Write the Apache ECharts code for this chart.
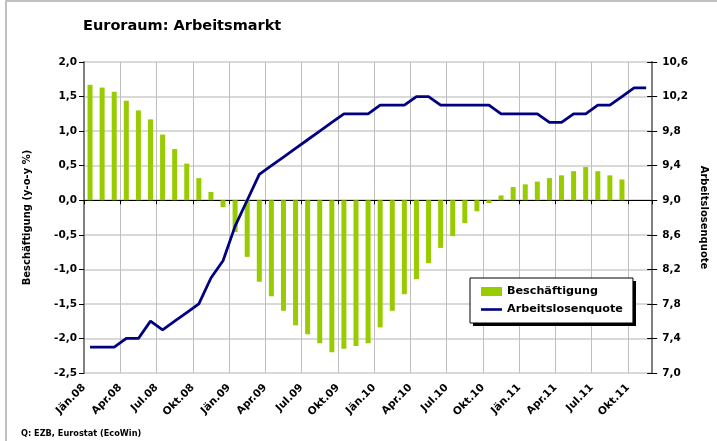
<!DOCTYPE html>
<html>
<head>
<meta charset="utf-8">
<script src="https://cdn.jsdelivr.net/npm/echarts@6/dist/echarts.min.js"></script>
<style>
    html, body { margin: 0; padding: 0; background: #fff; }
    #chart { width: 717px; height: 441px; }
</style>
</head>
<body>
<div id="chart"></div>
<script>
// months Jan 08 .. Nov 11
const monthNames = ['Jän', 'Feb', 'Mär', 'Apr', 'Mai', 'Jun', 'Jul', 'Aug', 'Sep', 'Okt', 'Nov', 'Dez'];
const years = ['08', '09', '10', '11'];
const monthCount = 47;
const months = [];
for (let i = 0; i < monthCount; i++) {
    months.push(monthNames[i % 12] + '.' + years[Math.floor(i / 12)]);
}

// Beschäftigung y-o-y %, Jan 08 .. Sep 11
const beschaeftigung = [
    1.67, 1.63, 1.57, 1.44, 1.30, 1.17, 0.95, 0.74, 0.53, 0.32, 0.12, -0.10,
    -0.46, -0.82, -1.18, -1.39, -1.60, -1.81, -1.94, -2.07, -2.20, -2.15, -2.11, -2.07,
    -1.84, -1.60, -1.36, -1.14, -0.91, -0.69, -0.52, -0.33, -0.16, -0.04, 0.07, 0.19,
    0.23, 0.27, 0.32, 0.36, 0.42, 0.48, 0.42, 0.36, 0.30
];

// Arbeitslosenquote %, Jan 08 .. Nov 11
const arbeitslosenquote = [
    7.3, 7.3, 7.3, 7.4, 7.4, 7.6, 7.5, 7.6, 7.7, 7.8, 8.1, 8.3,
    8.7, 9.0, 9.3, 9.4, 9.5, 9.6, 9.7, 9.8, 9.9, 10.0, 10.0, 10.0,
    10.1, 10.1, 10.1, 10.2, 10.2, 10.1, 10.1, 10.1, 10.1, 10.1, 10.0, 10.0,
    10.0, 10.0, 9.9, 9.9, 10.0, 10.0, 10.1, 10.1, 10.2, 10.3, 10.3
];

const FONT = 'DejaVu Sans';
const comma = v => v.toFixed(1).replace('.', ',');

const myChart = echarts.init(document.getElementById('chart'));

const option = {
    animation: false,
    backgroundColor: '#fff',
    title: {
        text: 'Euroraum: Arbeitsmarkt',
        left: 83,
        top: 19,
        padding: 0,
        textStyle: { fontFamily: FONT, fontSize: 14.5, fontWeight: 'bold', color: '#000' }
    },
    graphic: [
        { type: 'line', shape: { x1: 6, y1: 0, x2: 6, y2: 441 }, style: { stroke: '#c0c0c0', lineWidth: 2 } },
        { type: 'line', shape: { x1: 5, y1: 1, x2: 717, y2: 1 }, style: { stroke: '#c0c0c0', lineWidth: 2 } },
        // legend shadow
        { type: 'rect', z: 3, shape: { x: 473, y: 281, width: 163, height: 45 }, style: { fill: '#000' } },
        {
            type: 'text', x: 21, y: 430,
            style: {
                text: 'Q: EZB, Eurostat (EcoWin)',
                font: 'bold 8.2px "DejaVu Sans"',
                fill: '#000',
                verticalAlign: 'top'
            }
        }
    ],
    legend: {
        orient: 'vertical',
        left: 470,
        top: 278,
        z: 10,
        padding: [8, 10, 8, 11],
        itemWidth: 21,
        itemHeight: 9,
        itemGap: 7,
        symbolKeepAspect: true,
        backgroundColor: '#fff',
        borderColor: '#000',
        borderWidth: 1,
        borderRadius: 0,
        textStyle: { fontFamily: FONT, fontSize: 11.2, fontWeight: 'bold', color: '#000' },
        data: [
            { name: 'Beschäftigung', icon: 'rect' },
            { name: 'Arbeitslosenquote', icon: 'path://M0,0 H21 V2.6 H0 Z' }
        ]
    },
    grid: { left: 84, right: 61, top: 62, bottom: 68, containLabel: false },
    xAxis: [
        {
            type: 'category',
            data: months,
            boundaryGap: true,
            axisLine: { onZero: true, lineStyle: { color: '#000', width: 1 } },
            axisTick: { show: true, interval: 2, length: 4, lineStyle: { color: '#000' } },
            axisLabel: { show: false },
            splitLine: { show: false }
        },
        {
            type: 'value',
            position: 'bottom',
            min: 0,
            max: monthCount,
            interval: 3,
            axisLine: { show: false },
            axisTick: { show: false },
            splitLine: { show: true, lineStyle: { color: '#bfbfbf', width: 1 } },
            axisLabel: {
                rotate: 45,
                margin: 13,
                showMaxLabel: false,
                fontFamily: FONT,
                fontSize: 10.5,
                fontWeight: 'bold',
                color: '#000',
                formatter: v => (v % 3 === 0 && v < monthCount) ? months[v] : ''
            }
        }
    ],
    yAxis: [
        {
            type: 'value',
            position: 'left',
            min: -2.5,
            max: 2.0,
            interval: 0.5,
            name: 'Beschäftigung (y-o-y %)',
            nameLocation: 'middle',
            nameRotate: 90,
            nameGap: 52,
            nameTextStyle: { fontFamily: FONT, fontSize: 10, fontWeight: 'bold', color: '#000' },
            axisLine: { show: true, lineStyle: { color: '#808080', width: 2 } },
            axisTick: { show: true, length: 5, lineStyle: { color: '#000' } },
            axisLabel: {
                margin: 7,
                fontFamily: FONT, fontSize: 10.5, fontWeight: 'bold', color: '#000',
                formatter: comma
            },
            splitLine: { show: true, lineStyle: { color: '#d9d9d9', width: 2 } }
        },
        {
            type: 'value',
            position: 'right',
            min: 7.0,
            max: 10.6,
            interval: 0.4,
            name: 'Arbeitslosenquote',
            nameLocation: 'middle',
            nameRotate: -90,
            nameGap: 37,
            nameTextStyle: { fontFamily: FONT, fontSize: 10, fontWeight: 'bold', color: '#000' },
            axisLine: { show: true, lineStyle: { color: '#808080', width: 2 } },
            axisTick: { show: true, length: 5, lineStyle: { color: '#000' } },
            axisLabel: {
                margin: 10,
                fontFamily: FONT, fontSize: 10.5, fontWeight: 'bold', color: '#000',
                formatter: comma
            },
            splitLine: { show: false }
        },
        {
            // inner half of the cross ticks on the right axis
            type: 'value',
            position: 'right',
            min: 7.0,
            max: 10.6,
            interval: 0.4,
            axisLine: { show: false },
            axisTick: { show: true, inside: true, length: 5, lineStyle: { color: '#000' } },
            axisLabel: { show: false },
            splitLine: { show: false }
        }
    ],
    series: [
        {
            name: 'Beschäftigung',
            type: 'bar',
            xAxisIndex: 0,
            yAxisIndex: 0,
            barWidth: 5,
            itemStyle: { color: '#99cc00' },
            data: beschaeftigung
        },
        {
            name: 'Arbeitslosenquote',
            type: 'line',
            xAxisIndex: 0,
            yAxisIndex: 1,
            symbol: 'none',
            z: 5,
            lineStyle: { color: '#000080', width: 2.8 },
            itemStyle: { color: '#000080' },
            data: arbeitslosenquote
        }
    ]
};

myChart.setOption(option);
</script>
</body>
</html>
